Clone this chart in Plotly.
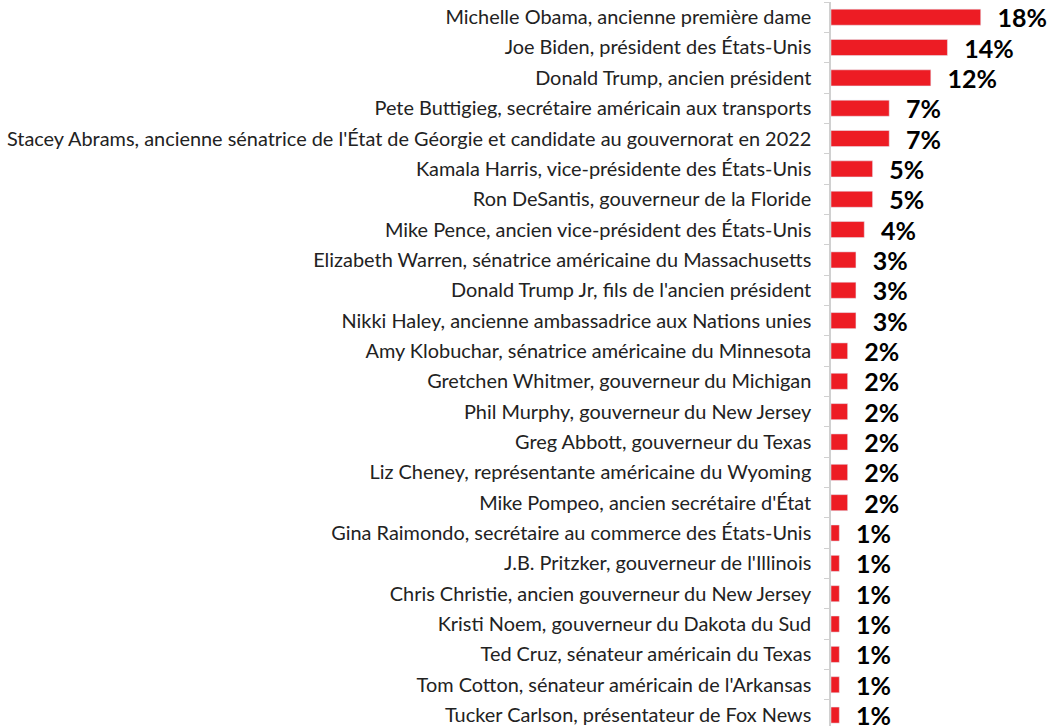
import plotly.graph_objects as go

names = [
    "Michelle Obama, ancienne première dame",
    "Joe Biden, président des États-Unis",
    "Donald Trump, ancien président",
    "Pete Buttigieg, secrétaire américain aux transports",
    "Stacey Abrams, ancienne sénatrice de l'État de Géorgie et candidate au gouvernorat en 2022",
    "Kamala Harris, vice-présidente des États-Unis",
    "Ron DeSantis, gouverneur de la Floride",
    "Mike Pence, ancien vice-président des États-Unis",
    "Elizabeth Warren, sénatrice américaine du Massachusetts",
    "Donald Trump Jr, fils de l'ancien président",
    "Nikki Haley, ancienne ambassadrice aux Nations unies",
    "Amy Klobuchar, sénatrice américaine du Minnesota",
    "Gretchen Whitmer, gouverneur du Michigan",
    "Phil Murphy, gouverneur du New Jersey",
    "Greg Abbott, gouverneur du Texas",
    "Liz Cheney, représentante américaine du Wyoming",
    "Mike Pompeo, ancien secrétaire d'État",
    "Gina Raimondo, secrétaire au commerce des États-Unis",
    "J.B. Pritzker, gouverneur de l'Illinois",
    "Chris Christie, ancien gouverneur du New Jersey",
    "Kristi Noem, gouverneur du Dakota du Sud",
    "Ted Cruz, sénateur américain du Texas",
    "Tom Cotton, sénateur américain de l'Arkansas",
    "Tucker Carlson, présentateur de Fox News",
]
pct = [18, 14, 12, 7, 7, 5, 5, 4, 3, 3, 3, 2, 2, 2, 2, 2, 2, 1, 1, 1, 1, 1, 1, 1]

fig = go.Figure(go.Bar(
    x=pct, y=names, orientation="h",
    marker_color="#ED1C24", width=0.53,
    text=pct, texttemplate="\u00a0\u00a0\u200a%{x}%", textposition="outside",
    textfont=dict(family="Lato", size=25, color="black", weight="bold"),
    constraintext="none", cliponaxis=False, hoverinfo="skip",
))

fig.update_layout(
    width=1050, height=726,
    margin=dict(l=831, r=36, t=2, b=0),
    plot_bgcolor="white", paper_bgcolor="white",
    showlegend=False, hovermode=False,
    font=dict(family="Lato", size=19.9, color="#222"),
)
fig.update_xaxes(range=[0, 22], visible=False)
fig.update_yaxes(
    range=[23.36, -0.5], automargin=False,
    showline=True, linecolor="#d0d0d0", linewidth=1.5,
    ticks="outside", tickson="boundaries", ticklen=5, tickcolor="#d0d0d0",
    ticklabelstandoff=14,
)

# page body margin off so the figure sits at the window's top-left
fig.write_html("out.html", config={"displayModeBar": False},
               post_script="document.body.style.margin='0';")
